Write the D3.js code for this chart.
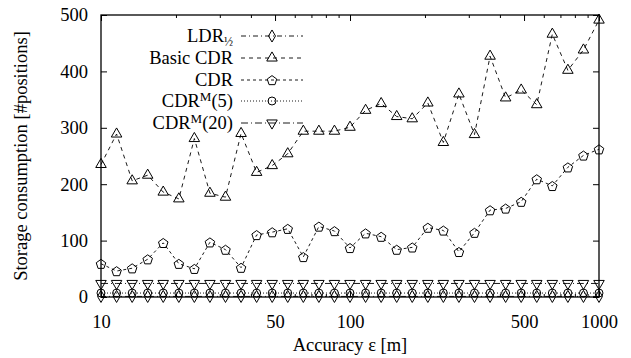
<!DOCTYPE html>
<html>
<head>
<meta charset="utf-8">
<script src="https://cdn.jsdelivr.net/npm/d3@7"></script>
<style>
  html, body { margin: 0; padding: 0; background: #fff; }
  svg { display: block; }
  svg text { font-family: Liberation Serif, DejaVu Serif, Times, serif; }
</style>
</head>
<body>
<svg id="chart" width="631" height="358"></svg>
<script>
// ---- data ----
const accuracy = [10, 11.55, 13.34, 15.40, 17.78, 20.54, 23.71, 27.38, 31.62, 36.52, 42.17,
  48.70, 56.23, 64.94, 74.99, 86.60, 100, 115.5, 133.4, 154.0, 177.8, 205.4, 237.1,
  273.8, 316.2, 365.2, 421.7, 487.0, 562.3, 649.4, 749.9, 866.0, 1000];
const ldrHalf = [1, 1, 1, 1, 1, 1, 1, 1, 1, 1, 1, 1, 1, 1, 1, 1, 1,
  1, 1, 1, 1, 1, 1, 1, 1, 1, 1, 1, 1, 1, 1, 1, 1];
const basicCdr = [235, 289, 206, 216, 186, 174, 281, 184, 177, 290, 221, 233, 254, 294, 294, 294,
  301, 331, 343, 320, 316, 344, 274, 360, 288, 427, 353, 367, 341, 466, 402, 438, 491];
const cdr = [59, 46, 51, 67, 96, 59, 50, 97, 84, 52, 110, 115, 121, 71, 125, 117, 87,
  113, 107, 84, 88, 123, 118, 80, 114, 154, 157, 169, 209, 197, 230, 251, 262];
const cdrM5 = [7, 7, 7, 7, 7, 7, 7, 7, 7, 7, 7, 7, 7, 7, 7, 7, 7,
  7, 7, 7, 7, 7, 7, 7, 7, 7, 7, 7, 7, 7, 7, 7, 7];
const cdrM20 = [24, 24, 24, 24, 24, 24, 24, 24, 24, 24, 24, 24, 24, 24, 24, 24, 24,
  24, 24, 24, 24, 24, 24, 24, 24, 24, 24, 24, 24, 24, 24, 24, 24];
const xTickLabels = [10, 50, 100, 500, 1000];
const xMinorTicks = [20, 30, 40, 60, 70, 80, 90, 200, 300, 400, 600, 700, 800, 900];
const yTicks = [0, 100, 200, 300, 400, 500];

// ---- layout ----
const svg = d3.select("#chart");
const L = 101, R = 599, T = 15, B = 297;
const x = d3.scaleLog().domain([10, 1000]).range([L, R]);
const y = d3.scaleLinear().domain([0, 500]).range([B, T]);
const FS = 18.5;

function pentagon(r) {
  const pts = d3.range(5).map(i => {
    const a = -Math.PI / 2 + i * 2 * Math.PI / 5;
    return [r * Math.cos(a), r * Math.sin(a) + 0.6];
  });
  return "M" + pts.map(p => p.join(",")).join("L") + "Z";
}
const markers = {
  diamond: d3.symbol().type(d3.symbolDiamond).size(42)(),
  triUp: d3.symbol().type(d3.symbolTriangle).size(48)(),
  pent: pentagon(5),
  circ: d3.symbol().type(d3.symbolCircle).size(50)(),
  triDown: d3.symbol().type(d3.symbolTriangle).size(48)()
};

const series = [
  { vals: ldrHalf, dash: "5,3,1,3", marker: markers.diamond, rot: 0 },
  { vals: basicCdr, dash: "4,4", marker: markers.triUp, rot: 0 },
  { vals: cdr, dash: "3,3", marker: markers.pent, rot: 0 },
  { vals: cdrM5, dash: "1,2", marker: markers.circ, rot: 0 },
  { vals: cdrM20, dash: "7,3,1,3", marker: markers.triDown, rot: 180 }
];

function styleText(sel) {
  sel.attr("font-size", FS).attr("fill", "#000");
}

// ---- axes / frame ----
const gx = svg.append("g").attr("transform", `translate(0,${B})`)
  .call(d3.axisBottom(x).tickValues(xTickLabels).tickFormat(d3.format("d")).tickSizeInner(-6).tickSizeOuter(0).tickPadding(18));
gx.select(".domain").remove();

const gxTop = svg.append("g").attr("transform", `translate(0,${T})`)
  .call(d3.axisTop(x).tickValues(xTickLabels).tickFormat("").tickSizeInner(-6).tickSizeOuter(0));
gxTop.select(".domain").remove();

const minorB = svg.append("g").attr("transform", `translate(0,${B})`)
  .call(d3.axisBottom(x).tickValues(xMinorTicks).tickFormat("").tickSizeInner(-3).tickSizeOuter(0));
minorB.select(".domain").remove();
const minorT = svg.append("g").attr("transform", `translate(0,${T})`)
  .call(d3.axisTop(x).tickValues(xMinorTicks).tickFormat("").tickSizeInner(-3).tickSizeOuter(0));
minorT.select(".domain").remove();

const gy = svg.append("g").attr("transform", `translate(${L},0)`)
  .call(d3.axisLeft(y).tickValues(yTicks).tickSizeInner(-6).tickSizeOuter(0).tickPadding(13));
gy.select(".domain").remove();

const gyR = svg.append("g").attr("transform", `translate(${R},0)`)
  .call(d3.axisRight(y).tickValues(yTicks).tickFormat("").tickSizeInner(-6).tickSizeOuter(0));
gyR.select(".domain").remove();

svg.selectAll("g").attr("font-family", null);
svg.selectAll(".tick line").attr("stroke", "#000");
styleText(svg.selectAll(".tick text"));

svg.append("rect").attr("x", L).attr("y", T).attr("width", R - L).attr("height", B - T)
  .attr("fill", "none").attr("stroke", "#000").attr("stroke-width", 1.3);

// ---- titles ----
styleText(svg.append("text").attr("x", (L + R) / 2).attr("y", 351).attr("text-anchor", "middle")
  .text("Accuracy ε [m]"));
styleText(svg.append("text").attr("transform", `translate(27,${(T + B) / 2}) rotate(-90)`)
  .attr("text-anchor", "middle").text("Storage consumption [#positions]"));

// ---- series ----
const line = d3.line().x((d, i) => x(accuracy[i])).y(d => y(d));
series.forEach(s => {
  svg.append("path").datum(s.vals).attr("d", line)
    .attr("fill", "none").attr("stroke", "#000").attr("stroke-width", 0.9)
    .attr("stroke-dasharray", s.dash);
  svg.append("g").selectAll("path").data(s.vals).join("path")
    .attr("d", s.marker)
    .attr("transform", (d, i) => `translate(${x(accuracy[i])},${y(d)}) rotate(${s.rot})`)
    .attr("fill", "none").attr("stroke", "#000").attr("stroke-width", 1);
});

// ---- legend ----
const legY = [36, 58, 80, 101, 123];
const leg = svg.append("g");
series.forEach((s, i) => {
  const t = leg.append("text").attr("x", 233).attr("y", legY[i]).attr("dy", "0.35em")
    .attr("text-anchor", "end");
  styleText(t);
  if (i === 0) {
    t.append("tspan").text("LDR");
    t.append("tspan").attr("font-size", 12).attr("dy", 4).text("½");
  } else if (i === 1) {
    t.text("Basic CDR");
  } else if (i === 2) {
    t.text("CDR");
  } else {
    t.append("tspan").text("CDR");
    t.append("tspan").attr("font-size", 13).attr("dy", -6).text("M");
    t.append("tspan").attr("dy", 6).text(i === 3 ? "(5)" : "(20)");
  }
  leg.append("line").attr("x1", 241).attr("x2", 303).attr("y1", legY[i]).attr("y2", legY[i])
    .attr("stroke", "#000").attr("stroke-width", 0.9).attr("stroke-dasharray", s.dash);
  leg.append("path").attr("d", s.marker)
    .attr("transform", `translate(272,${legY[i]}) rotate(${s.rot})`)
    .attr("fill", "none").attr("stroke", "#000").attr("stroke-width", 1);
});
</script>
</body>
</html>
